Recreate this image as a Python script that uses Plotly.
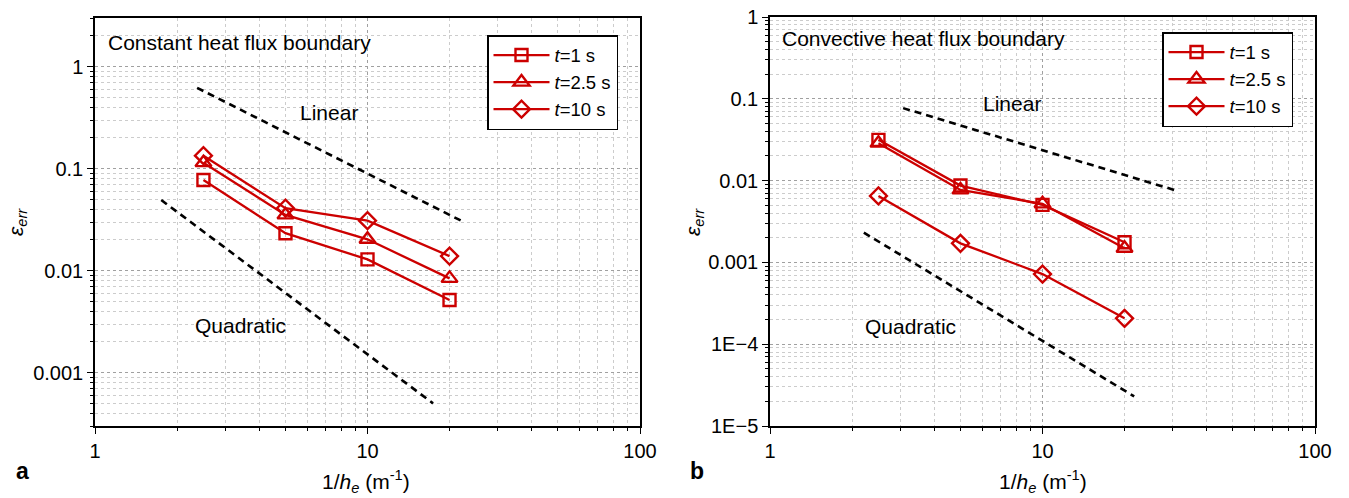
import plotly.graph_objects as go
import numpy as np

W, H = 1349, 498

# ---------------- data ----------------
x_he = [2.5, 5, 10, 20]

const_t1 = [0.0775, 0.0233, 0.0129, 0.00516]
const_t25 = [0.1145, 0.0352, 0.0203, 0.0084]
const_t10 = [0.134, 0.041, 0.0309, 0.0139]

conv_t1 = [0.0315, 0.0087, 0.00505, 0.00176]
conv_t25 = [0.0287, 0.0077, 0.0052, 0.00149]
conv_t10 = [0.0065, 0.00171, 0.00072, 0.000207]

lin_a_x, lin_a_y = [2.37, 22.0], [0.62, 0.031]
quad_a_x, quad_a_y = [1.75, 17.4], [0.0493, 5.0e-4]
lin_b_x, lin_b_y = [3.08, 30.4], [0.0769, 0.0077]
quad_b_x, quad_b_y = [2.21, 21.7], [0.00231, 2.3e-5]

series_names = ["<i>t</i>=1 s", "<i>t</i>=2.5 s", "<i>t</i>=10 s"]
x_ticks = [1, 10, 100]
x_ticktext = ["1", "10", "100"]
ya_ticks = [0.001, 0.01, 0.1, 1]
ya_ticktext = ["0.001", "0.01", "0.1", "1"]
yb_ticks = [1e-5, 1e-4, 0.001, 0.01, 0.1, 1]
yb_ticktext = ["1E\u22125", "1E\u22124", "0.001", "0.01", "0.1", "1"]

# ---------------- style ----------------
RED = "#cc0000"
FONT = "Arial, Liberation Sans, sans-serif"
symbols = ["square-open", "triangle-up-open", "diamond-open"]
msizes = [12, 14, 13]


def px(x):
    return x / W


def py(y):
    return 1 - y / H


fig = go.Figure()

for data, xa, ya, leg in [
    ([const_t1, const_t25, const_t10], "x", "y", "legend"),
    ([conv_t1, conv_t25, conv_t10], "x2", "y2", "legend2"),
]:
    for vals, name, sym, ms in zip(data, series_names, symbols, msizes):
        fig.add_trace(go.Scatter(
            x=x_he, y=vals, name=name, mode="lines+markers",
            line=dict(color=RED, width=2.3),
            marker=dict(symbol=sym, size=ms, color=RED, line=dict(width=2.4, color=RED)),
            xaxis=xa, yaxis=ya, legend=leg,
        ))

for lx, ly, xa, ya in [
    (lin_a_x, lin_a_y, "x", "y"), (quad_a_x, quad_a_y, "x", "y"),
    (lin_b_x, lin_b_y, "x2", "y2"), (quad_b_x, quad_b_y, "x2", "y2"),
]:
    fig.add_trace(go.Scatter(
        x=lx, y=ly, mode="lines", showlegend=False,
        line=dict(color="black", width=2.6, dash="7px,5px"),
        xaxis=xa, yaxis=ya,
    ))


def minor_vals(lo, hi):
    out = []
    for d in range(lo, hi):
        for k in range(2, 10):
            out.append(k * 10.0 ** d)
    return out


def axis_common():
    return dict(
        type="log", showline=True, linecolor="black", linewidth=1.5, mirror=True,
        ticks="outside", ticklen=6, tickwidth=1.3, tickcolor="black",
        tickfont=dict(family=FONT, size=20, color="black"),
        showgrid=True, gridcolor="#a0a0a0", griddash="dot", gridwidth=1,
        zeroline=False, automargin=False,
    )


def minor_cfg(lo, hi):
    return dict(tickmode="array", tickvals=minor_vals(lo, hi), ticks="outside",
                ticklen=3.5, tickcolor="black", showgrid=True,
                gridcolor="#cccccc", griddash="dot", gridwidth=1)


xa_common = axis_common()
xa_common.update(tickmode="array", tickvals=x_ticks, ticktext=x_ticktext, range=[0, 2],
                 minor=minor_cfg(0, 2))

ya_axis = axis_common()
ya_axis.update(tickmode="array", tickvals=ya_ticks, ticktext=ya_ticktext,
               range=[np.log10(3e-4), np.log10(3)], minor=minor_cfg(-4, 1))

yb_axis = axis_common()
yb_axis.update(tickmode="array", tickvals=yb_ticks, ticktext=yb_ticktext,
               range=[-5, 0], minor=minor_cfg(-5, 0))

legend_common = dict(xanchor="left", yanchor="top",
                     bgcolor="white", bordercolor="black", borderwidth=1.5,
                     font=dict(family=FONT, size=18.5, color="black"),
                     tracegroupgap=0, itemwidth=56)

fig.update_layout(
    width=W, height=H, margin=dict(l=0, r=0, t=0, b=0, autoexpand=False),
    paper_bgcolor="white", plot_bgcolor="white",
    font=dict(family=FONT, color="black"),
    xaxis=dict(domain=[px(95), px(640)], anchor="y", **xa_common),
    yaxis=dict(domain=[py(426), py(18)], anchor="x", **ya_axis),
    xaxis2=dict(domain=[px(770), px(1315)], anchor="y2", **xa_common),
    yaxis2=dict(domain=[py(426), py(17)], anchor="x2", **yb_axis),
    legend=dict(x=px(487), y=py(35), **legend_common),
    legend2=dict(x=px(1162), y=py(32), **legend_common),
    showlegend=True,
)

ann = []


def add_text(text, x, y, size=21, xanchor="center", bold=False, angle=0):
    ann.append(dict(text=("<b>%s</b>" % text) if bold else text, x=px(x), y=py(y),
                    xref="paper", yref="paper", showarrow=False, xanchor=xanchor,
                    yanchor="middle", textangle=angle,
                    font=dict(family=FONT, size=size, color="black")))


add_text("Constant heat flux boundary", 106, 43, xanchor="left")
add_text("Convective heat flux boundary", 780, 38, xanchor="left")
add_text("Linear", 329, 113)
add_text("Quadratic", 240, 325)
add_text("Linear", 1012, 103)
add_text("Quadratic", 910, 326)
add_text("1/<i>h</i><sub><i>e</i></sub> (m<sup>-1</sup>)", 366, 481)
add_text("1/<i>h</i><sub><i>e</i></sub> (m<sup>-1</sup>)", 1043, 481)
add_text("<i>\u03b5</i><sub><i>err</i></sub>", 17, 222, angle=-90)
add_text("<i>\u03b5</i><sub><i>err</i></sub>", 694, 222, angle=-90)
add_text("a", 22, 471, size=23, bold=True)
add_text("b", 697, 471, size=23, bold=True)

fig.update_layout(annotations=ann)

fig.write_html("out.html")
